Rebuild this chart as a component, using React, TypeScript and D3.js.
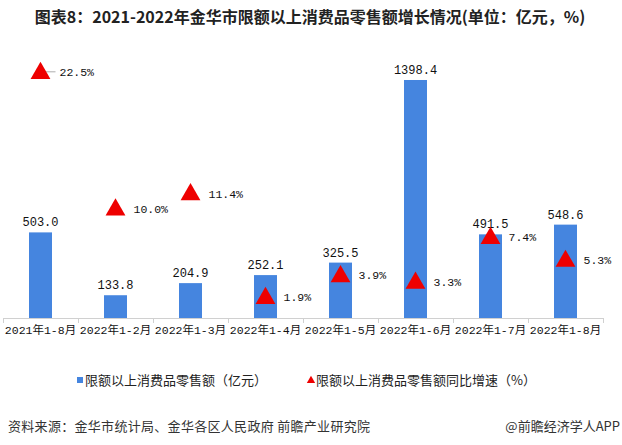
import React from "react";
import * as d3 from "d3";

const categories = ["2021年1-8月", "2022年1-2月", "2022年1-3月", "2022年1-4月", "2022年1-5月", "2022年1-6月", "2022年1-7月", "2022年1-8月"];
const salesValues = [503.0, 133.8, 204.9, 252.1, 325.5, 1398.4, 491.5, 548.6];
const growthValues = [22.5, 10.0, 11.4, 1.9, 3.9, 3.3, 7.4, 5.3];
const titleText = "图表8：2021-2022年金华市限额以上消费品零售额增长情况(单位：亿元，%)";
const legendBar = "限额以上消费品零售额（亿元）";
const legendTri = "限额以上消费品零售额同比增速（%）";
const sourceText = "资料来源：金华市统计局、金华各区人民政府 前瞻产业研究院";
const brandText = "@前瞻经济学人APP";

const W = 622;
const H = 445;
const BASE = 318;
const CJK = "'Noto Sans CJK SC', 'Noto Sans', sans-serif";
const MONO = "'Liberation Mono', 'DejaVu Sans Mono', 'Noto Sans CJK SC', monospace";
const BLUE = "#4585df";
const RED = "#ee0000";

export default function App() {
  const x = d3.scaleBand<string>().domain(categories).range([3, 603]).paddingInner(0).paddingOuter(0);
  const yBar = d3.scaleLinear().domain([0, 1600]).range([BASE, BASE - 1600 * 0.1702]);
  const yTri = d3.scaleLinear().domain([0, 25]).range([BASE, BASE - 25 * 10.92]);
  const bw = 23;
  const tri = d3.symbol().type(d3.symbolTriangle).size(170)();
  const ticks = d3.range(categories.length + 1).map((i) => 3 + i * x.bandwidth());

  return (
    <svg width={W} height={H} style={{ position: "absolute", left: 0, top: 0, background: "#fff" }}>
      <rect width={W} height={H} fill="#fff" />
      <text x={310} y={23} textAnchor="middle" fontFamily={CJK} fontWeight="bold" fontSize={16} fill="#222">
        {titleText}
      </text>

      {categories.map((c, i) => {
        const cx = (x(c) as number) + x.bandwidth() / 2;
        const yTop = yBar(salesValues[i]);
        return (
          <g key={c}>
            <rect x={cx - bw / 2} y={yTop} width={bw} height={BASE - yTop} fill={BLUE} />
            <text x={cx} y={yTop - 6} textAnchor="middle" fontFamily={MONO} fontSize={12} fill="#111">
              {salesValues[i].toFixed(1)}
            </text>
          </g>
        );
      })}

      <line x1={3} x2={604} y1={BASE + 0.5} y2={BASE + 0.5} stroke="#d0d0d0" />
      {ticks.map((t, i) => (
        <line key={i} x1={t + 0.5} x2={t + 0.5} y1={BASE} y2={BASE + 5} stroke="#d0d0d0" />
      ))}
      {categories.map((c) => (
        <text key={c} x={(x(c) as number) + x.bandwidth() / 2} y={334} textAnchor="middle" fontFamily={MONO} fontSize={11.5} fill="#111">
          {c}
        </text>
      ))}

      {categories.map((c, i) => {
        const cx = (x(c) as number) + x.bandwidth() / 2;
        const cy = yTri(growthValues[i]);
        return (
          <g key={"t" + c}>
            {i === 0 && <line x1={cx + 2} x2={cx + 15} y1={cy - 0.5} y2={cy - 0.5} stroke="#999" strokeWidth={0.8} />}
            <path d={tri} transform={`translate(${cx},${cy + 1})`} fill={RED} />
            <text x={cx + (i === 0 ? 19 : 18)} y={cy + 4} fontFamily={MONO} fontSize={11.5} fill="#111">
              {growthValues[i].toFixed(1) + "%"}
            </text>
          </g>
        );
      })}

      <rect x={77} y={377} width={6} height={6} fill={BLUE} />
      <text x={85} y={385} fontFamily={CJK} fontSize={13} fill="#222">{legendBar}</text>
      <path d={d3.symbol().type(d3.symbolTriangle).size(30)()} transform="translate(311,380.5)" fill={RED} />
      <text x={316} y={385} fontFamily={CJK} fontSize={13} fill="#222">{legendTri}</text>

      <text x={8} y={431} fontFamily={CJK} fontSize={13} letterSpacing={0.3} fill="#333">{sourceText}</text>
      <text x={620} y={431} textAnchor="end" fontFamily={CJK} fontSize={13} fill="#333">{brandText}</text>
    </svg>
  );
}
